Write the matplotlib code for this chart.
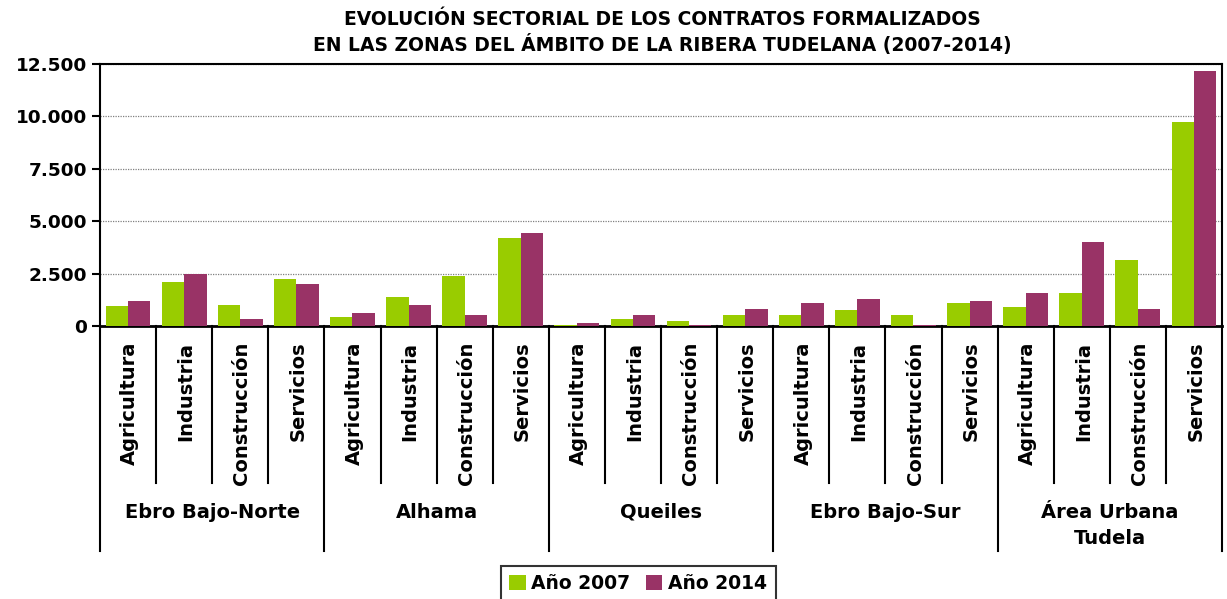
import numpy as np
import matplotlib as mpl
import matplotlib.pyplot as plt
from matplotlib.ticker import FuncFormatter

mpl.use('Agg')
plt.rcParams['font.family'] = 'DejaVu Sans'
plt.rcParams['font.weight'] = 'bold'

zonas = ["Ebro Bajo-Norte", "Alhama", "Queiles", "Ebro Bajo-Sur", "Área Urbana\nTudela"]
sectores = ["Agricultura", "Industria", "Construcción", "Servicios"]

# contratos por zona y sector (Agricultura, Industria, Construcción, Servicios)
anio2007 = [950, 2120, 1020, 2220,
            450, 1400, 2400, 4180,
            70, 350, 260, 540,
            540, 740, 540, 1120,
            930, 1590, 3170, 9750]
anio2014 = [1210, 2500, 350, 2020,
            640, 1020, 540, 4460,
            160, 540, 70, 830,
            1120, 1310, 70, 1210,
            1590, 3990, 830, 12160]

verde = '#99CC00'
morado = '#993366'

fig = plt.figure(figsize=(12.27, 5.99), dpi=100)
ax = fig.add_axes([100 / 1227, 1 - 326 / 599, 1122 / 1227, 262 / 599])

n = len(anio2007)
x = np.arange(n)
w = 0.4
ax.bar(x - w / 2, anio2007, w, color=verde, label='Año 2007', zorder=3)
ax.bar(x + w / 2, anio2014, w, color=morado, label='Año 2014', zorder=3)

ax.set_xlim(-0.5, n - 0.5)
ax.set_ylim(0, 12500)
ax.set_yticks(np.arange(0, 12501, 2500))
ax.yaxis.set_major_formatter(FuncFormatter(lambda v, p: f"{int(v):,}".replace(',', '.')))
ax.tick_params(axis='y', labelsize=13.3, length=6, width=1.5, direction='out')
ax.set_xticks([])
ax.yaxis.grid(True, linestyle=(0, (1, 1)), color='#808080', linewidth=0.9, zorder=0)
for s in ax.spines.values():
    s.set_linewidth(1.5)
    s.set_color('black')
ax.spines['bottom'].set_linewidth(2)

# etiquetas de dos niveles bajo el eje
tr = ax.get_xaxis_transform()
for i in range(n):
    ax.text(i + 0.03, -0.06, sectores[i % 4], rotation=90, ha='center', va='top',
            fontsize=14, fontweight='bold', transform=tr)
for i in range(1, n):
    if i % 4 == 0:
        ax.plot([i - 0.5, i - 0.5], [0, -0.86], color='black', lw=1.5,
                transform=tr, clip_on=False)
    else:
        ax.plot([i - 0.5, i - 0.5], [0, -0.6], color='black', lw=1.5,
                transform=tr, clip_on=False)
for b in [-0.5, n - 0.5]:
    ax.plot([b, b], [0, -0.86], color='black', lw=1.5, transform=tr, clip_on=False)
for g, zona in enumerate(zonas):
    ax.text(4 * g + 1.5, -0.675, zona, ha='center', va='top', fontsize=14,
            fontweight='bold', transform=tr, linespacing=1.45)

fig.text(0.54, 1 - 10 / 599,
         "EVOLUCIÓN SECTORIAL DE LOS CONTRATOS FORMALIZADOS\n"
         "EN LAS ZONAS DEL ÁMBITO DE LA RIBERA TUDELANA (2007-2014)",
         ha='center', va='top', fontsize=13.5, fontweight='bold', linespacing=1.3)

leg = fig.legend(loc='lower center', bbox_to_anchor=(0.52, -0.02), ncol=2,
                 fontsize=13.5, frameon=True, fancybox=False, edgecolor='black',
                 handlelength=0.9, handleheight=0.9, handletextpad=0.3,
                 columnspacing=0.8, borderpad=0.45)
leg.get_frame().set_linewidth(1.5)

fig.savefig('out.png', dpi=100)
